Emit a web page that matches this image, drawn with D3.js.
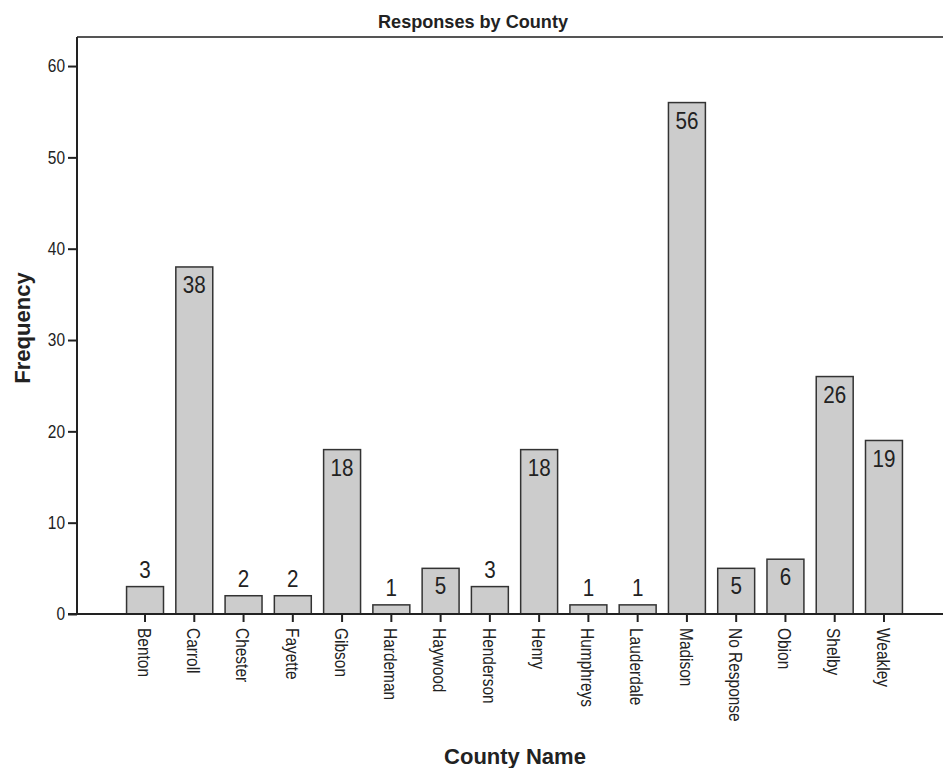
<!DOCTYPE html>
<html>
<head>
<meta charset="utf-8">
<script src="https://cdn.jsdelivr.net/npm/d3@7"></script>
<style>
  body { margin: 0; background: #fff; }
  svg { display: block; }
  text { fill: #222; }
</style>
</head>
<body>
<svg id="chart" width="943" height="768"></svg>
<script>
const categories = ["Benton","Carroll","Chester","Fayette","Gibson","Hardeman","Haywood","Henderson","Henry","Humphreys","Lauderdale","Madison","No Response","Obion","Shelby","Weakley"];
const frequencies = [3,38,2,2,18,1,5,3,18,1,1,56,5,6,26,19];
const yTicks = [0,10,20,30,40,50,60];
const chartTitle = "Responses by County";
const xTitle = "County Name";
const yTitle = "Frequency";

const svg = d3.select("#chart");
const plot = { left: 77, top: 37, right: 943, bottom: 614 };

const y = d3.scaleLinear().domain([0, 63.18]).range([plot.bottom, plot.top]);
const x = d3.scaleBand().domain(categories).range([120.4, 908.6]).paddingInner(0.25).paddingOuter(0.125);

const labelFont = "'Liberation Sans', Arial, sans-serif";
const squeeze = 0.86;

// top frame line
svg.append("line")
  .attr("x1", plot.left).attr("x2", plot.right)
  .attr("y1", plot.top).attr("y2", plot.top)
  .attr("stroke", "#555").attr("stroke-width", 2);

// bars
svg.append("g").selectAll("rect").data(categories).join("rect")
  .attr("x", d => x(d))
  .attr("y", (d, i) => y(frequencies[i]))
  .attr("width", x.bandwidth())
  .attr("height", (d, i) => plot.bottom - y(frequencies[i]))
  .attr("fill", "#cccccc")
  .attr("stroke", "#333")
  .attr("stroke-width", 1.5);

// value labels
svg.append("g").selectAll("text").data(categories).join("text")
  .attr("transform", (d, i) => {
    const top = y(frequencies[i]);
    const h = plot.bottom - top;
    const cy = h >= 40 ? top + 17.5 : top - 17.5;
    return `translate(${x(d) + x.bandwidth() / 2},${cy}) scale(${squeeze},1)`;
  })
  .attr("dy", "0.36em")
  .attr("text-anchor", "middle")
  .style("font-family", labelFont)
  .style("font-size", "24px")
  .text((d, i) => frequencies[i]);

// y axis
const yAxis = d3.axisLeft(y).tickValues(yTicks).tickSize(9).tickPadding(0).tickFormat(d3.format("d"));
const gy = svg.append("g").attr("transform", `translate(${plot.left},0)`).call(yAxis);
gy.select(".domain").remove();
gy.selectAll(".tick line").attr("stroke", "#222").attr("stroke-width", 2);
gy.selectAll(".tick text")
  .style("font-family", labelFont).style("font-size", "18px").attr("fill", "#222")
  .attr("x", null)
  .attr("transform", `translate(-12,0) scale(${squeeze},1)`);
svg.append("line")
  .attr("x1", plot.left).attr("x2", plot.left)
  .attr("y1", plot.top).attr("y2", plot.bottom)
  .attr("stroke", "#222").attr("stroke-width", 2);

// x axis
const xAxis = d3.axisBottom(x).tickSize(8).tickPadding(5);
const gx = svg.append("g").attr("transform", `translate(0,${plot.bottom})`).call(xAxis);
gx.select(".domain").remove();
gx.selectAll(".tick line").attr("stroke", "#222").attr("stroke-width", 2);
gx.selectAll(".tick text")
  .style("font-family", labelFont).style("font-size", "18px").attr("fill", "#222")
  .attr("transform", `translate(-1,14) rotate(90) scale(${squeeze},1)`)
  .attr("x", 0).attr("y", 0).attr("dy", "0.35em")
  .attr("text-anchor", "start");
svg.append("line")
  .attr("x1", plot.left - 9).attr("x2", plot.right)
  .attr("y1", plot.bottom).attr("y2", plot.bottom)
  .attr("stroke", "#222").attr("stroke-width", 2);

// titles
svg.append("text")
  .attr("x", 473).attr("y", 28)
  .attr("text-anchor", "middle")
  .attr("textLength", 190).attr("lengthAdjust", "spacingAndGlyphs")
  .style("font-family", labelFont).style("font-weight", "bold").style("font-size", "19px")
  .text(chartTitle);

svg.append("text")
  .attr("x", 515).attr("y", 764)
  .attr("text-anchor", "middle")
  .style("font-family", labelFont).style("font-weight", "bold").style("font-size", "22px")
  .text(xTitle);

svg.append("text")
  .attr("transform", "translate(30,328) rotate(-90)")
  .attr("text-anchor", "middle")
  .style("font-family", labelFont).style("font-weight", "bold").style("font-size", "22px")
  .text(yTitle);
</script>
</body>
</html>
